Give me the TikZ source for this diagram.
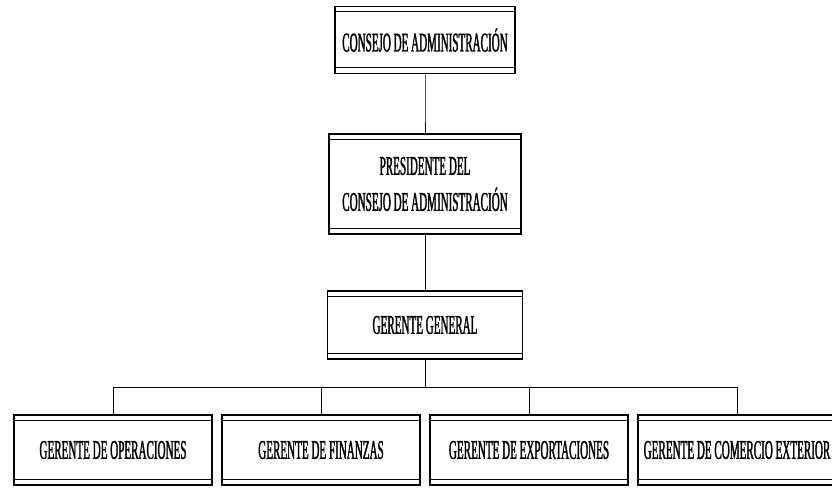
\documentclass[tikz,border=0pt]{standalone}
\usepackage{fontspec}
\setmainfont{Liberation Serif}[FakeStretch=0.41, FakeBold=1.2]
\usetikzlibrary{trees}

\begin{document}
\begin{tikzpicture}
[
x=1pt, y=1pt,
every node/.style={draw, line width=1.4pt, align=center, inner sep=2pt,
  font=\fontsize{27}{32}\selectfont,
  path picture={
    \draw[line width=0.6pt] ([yshift=-5pt]path picture bounding box.north west) -- ([yshift=-5pt]path picture bounding box.north east);
    \draw[line width=0.6pt] ([yshift=6pt]path picture bounding box.south west) -- ([yshift=6pt]path picture bounding box.south east);
  }},
edge from parent/.style={draw, line width=0.6pt},
edge from parent fork down,
level 1/.style={level distance=144pt},
level 2/.style={level distance=141pt},
level 3/.style={level distance=125pt, sibling distance=208pt},
puesto/.style={minimum width=198pt, minimum height=70pt}
]
\useasboundingbox (0,0) rectangle (832,-495);

\node[minimum width=180pt, minimum height=67pt] (consejo) at (425,-40) {CONSEJO DE ADMINISTRACIÓN}
child {node[minimum width=192pt, minimum height=100pt] (presidente) {PRESIDENTE DEL\\[4pt]CONSEJO DE ADMINISTRACIÓN}
	child {node[minimum width=195pt, minimum height=68pt] (general) {GERENTE GENERAL}
		child {node[puesto] (operaciones) {GERENTE DE OPERACIONES}}
		child {node[puesto] (finanzas) {GERENTE DE FINANZAS}}
		child {node[puesto] (exportaciones) {GERENTE DE EXPORTACIONES}}
		child {node[puesto] (comercio) {GERENTE DE COMERCIO EXTERIOR}}
	}
};
\end{tikzpicture}
\end{document}
